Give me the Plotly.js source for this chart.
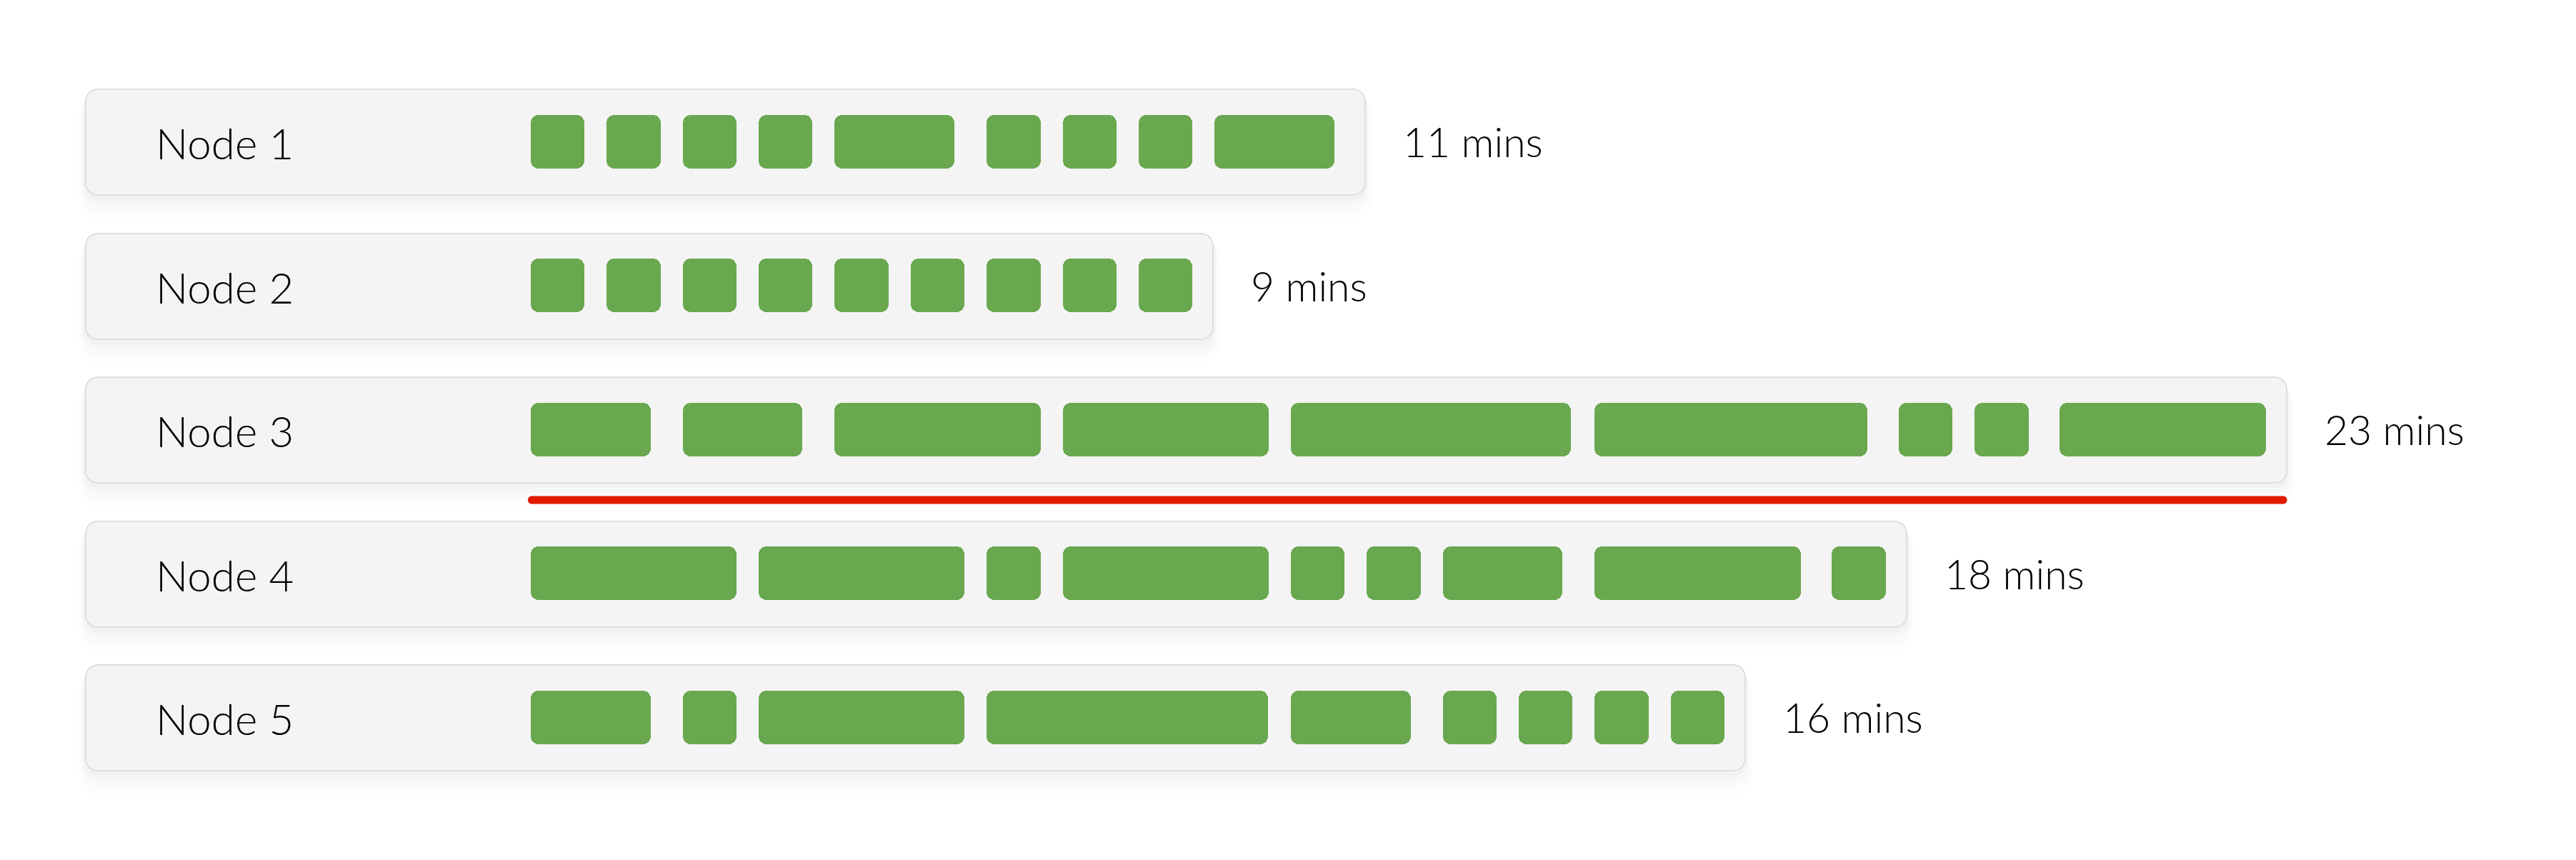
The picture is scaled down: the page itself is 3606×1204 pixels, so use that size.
<!DOCTYPE html>
<html>
<head>
<meta charset="utf-8">
<script src="https://cdn.plot.ly/plotly-3.0.1.min.js"></script>
<style>
html, body { margin: 0; padding: 0; background: #ffffff; }
#chart { width: 3606px; height: 1204px; }
</style>
</head>
<body>
<div id="chart"></div>
<script>
// ---------------- data ----------------
const nodeNames = ['Node 1', 'Node 2', 'Node 3', 'Node 4', 'Node 5'];
const totalMins = [11, 9, 23, 18, 16];
const node1Starts = [0, 1, 2, 3, 4, 6, 7, 8, 9];
const node1Durations = [1, 1, 1, 1, 1.87, 1, 1, 1, 1.87];
const node2Starts = [0, 1, 2, 3, 4, 5, 6, 7, 8];
const node2Durations = [1, 1, 1, 1, 1, 1, 1, 1, 1];
const node3Starts = [0, 2, 4, 7, 10, 14, 18, 19, 20.12];
const node3Durations = [1.87, 1.87, 3, 3, 3.98, 3.88, 1, 1, 3];
const node4Starts = [0, 3, 6, 7, 10, 11, 12, 14, 17.12];
const node4Durations = [3, 3, 1, 3, 1, 1, 1.87, 3, 1];
const node5Starts = [0, 2, 3, 6, 10, 12, 13, 14, 15];
const node5Durations = [1.87, 1, 3, 3.99, 1.87, 1, 1, 1, 1];

const taskStarts = [node1Starts, node2Starts, node3Starts, node4Starts, node5Starts];
const taskDurations = [node1Durations, node2Durations, node3Durations, node4Durations, node5Durations];

// ---------------- layout / style constants ----------------
const W = 3606, H = 1204;
const PX_PER_MIN = 106.4;
const PX_PER_ROW = 201.5;
const X0_PX = 742.7;
const ROW0_PX = 198;
const GAP = 31 / PX_PER_MIN;
const BOX_LEFT = (119 - X0_PX) / PX_PER_MIN;
const LABEL_X = (216 - X0_PX) / PX_PER_MIN;
const BLOCK_H = 75 / PX_PER_ROW;
const BOX_H = 150 / PX_PER_ROW;
const BORDER_PX = 2;
const GREEN = '#69a84f';
const RED = '#e11b00';
const FONT = 'Lato, "Noto Sans", sans-serif';

const xmin = -X0_PX / PX_PER_MIN;
const xmax = xmin + W / PX_PER_MIN;
const ymin = -ROW0_PX / PX_PER_ROW;
const ymax = ymin + H / PX_PER_ROW;

const rows = nodeNames.map((_, i) => i);
const lastEnd = taskStarts.map((s, i) => Math.max(...s.map((v, j) => v + taskDurations[i][j])));
const boxRight = lastEnd.map((v, i) => Math.max(v, totalMins[i]) - 0.01);

// one rounded horizontal bar per item, from lefts[i] to rights[i]
function roundedBars(lefts, rights, ys, color, width, radius, offset) {
  const t = {
    type: 'bar', orientation: 'h', y: ys, width: width,
    base: lefts,
    x: lefts.map((l, i) => rights[i] - l),
    marker: { color: color, cornerradius: radius, line: { width: 0 } },
    hoverinfo: 'skip', showlegend: false
  };
  if (offset !== undefined) t.offset = offset;
  return t;
}

const traces = [];

// soft drop shadow under each node box
const shadowLayers = [
  { shift: 4, spread: 1, alpha: 0.018 },
  { shift: 9, spread: 3, alpha: 0.014 },
  { shift: 15, spread: 6, alpha: 0.011 },
  { shift: 22, spread: 9, alpha: 0.008 }
];
shadowLayers.forEach(s => {
  const w = BOX_H + 2 * s.spread / PX_PER_ROW;
  traces.push(roundedBars(
    rows.map(() => BOX_LEFT - s.spread / PX_PER_MIN),
    boxRight.map(r => r + s.spread / PX_PER_MIN),
    rows, 'rgba(0,0,0,' + s.alpha + ')', w, 18 + s.spread,
    -w / 2 + (s.shift + 2) / PX_PER_ROW));
});

// box border
const boxOffset = -BOX_H / 2 + 1 / PX_PER_ROW;
traces.push(roundedBars(rows.map(() => BOX_LEFT), boxRight, rows, '#dedede', BOX_H, 18, boxOffset));
// box fill
traces.push(roundedBars(
  rows.map(() => BOX_LEFT + BORDER_PX / PX_PER_MIN),
  boxRight.map(r => r - BORDER_PX / PX_PER_MIN),
  rows, '#f4f4f4', BOX_H - 2 * BORDER_PX / PX_PER_ROW, 16, boxOffset + BORDER_PX / PX_PER_ROW));

// task blocks
const bl = [], br = [], by = [];
taskStarts.forEach((s, i) => {
  s.forEach((v, j) => {
    bl.push(v);
    br.push(v + taskDurations[i][j] - GAP);
    by.push(i);
  });
});
traces.push(roundedBars(bl, br, by, GREEN, BLOCK_H, 11));

// critical path line under the longest node
const crit = totalMins.indexOf(Math.max(...totalMins));
const capR = 5.5 / PX_PER_MIN;
const lineY = crit + 99 / PX_PER_ROW;
traces.push({
  type: 'scatter', mode: 'lines+markers',
  x: [taskStarts[crit][0] + capR * 0.3, boxRight[crit] - capR],
  y: [lineY, lineY],
  line: { color: RED, width: 11 },
  marker: { color: RED, size: 11, line: { width: 0 } },
  hoverinfo: 'skip', showlegend: false
});

// labels
const annotations = [];
rows.forEach(i => {
  annotations.push({
    x: LABEL_X, y: i, xref: 'x', yref: 'y', text: nodeNames[i],
    showarrow: false, xanchor: 'left', yanchor: 'middle', yshift: -2,
    font: { family: FONT, size: 60, color: '#000000', weight: 300 }
  });
  annotations.push({
    x: boxRight[i], y: i, xref: 'x', yref: 'y', text: totalMins[i] + ' mins',
    showarrow: false, xanchor: 'left', yanchor: 'middle', xshift: 50, yshift: 0,
    font: { family: FONT, size: 57, color: '#000000', weight: 300 }
  });
});

const layout = {
  width: W, height: H,
  margin: { l: 0, r: 0, t: 0, b: 0, pad: 0 },
  paper_bgcolor: '#ffffff', plot_bgcolor: '#ffffff',
  barmode: 'overlay', bargap: 0, bargroupgap: 0,
  showlegend: false,
  xaxis: { range: [xmin, xmax], visible: false, fixedrange: true },
  yaxis: { range: [ymax, ymin], visible: false, fixedrange: true },
  annotations: annotations,
  font: { family: FONT }
};

Plotly.newPlot('chart', traces, layout, { displayModeBar: false, responsive: false });
</script>
</body>
</html>
